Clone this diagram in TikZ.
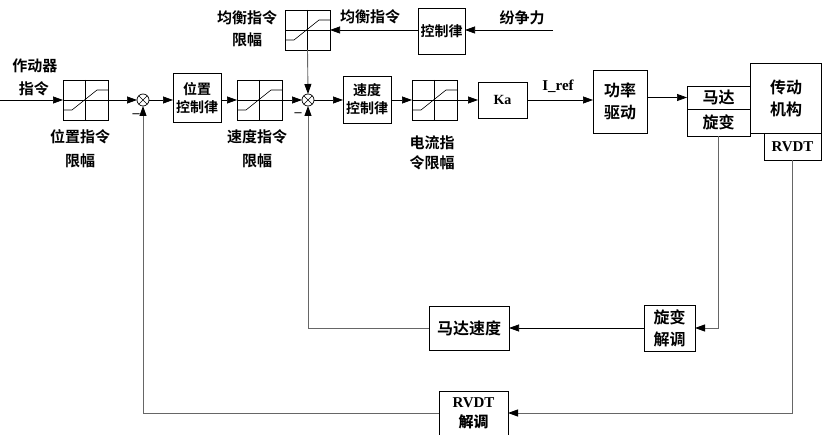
\documentclass[tikz,border=0pt]{standalone}
\usepackage{fontspec}
\setmainfont{Liberation Serif}
\newfontfamily\cjk{Noto Sans CJK SC Bold}
\usetikzlibrary{arrows.meta,calc}
\begin{document}
\begin{tikzpicture}[x=1pt,y=-1pt,
  every node/.style={inner sep=0pt, outer sep=0pt},
  blk/.style={draw, line width=0.8pt, font=\cjk\fontsize{14}{18}\selectfont, align=center},
  lim/.style={draw, line width=0.8pt, minimum width=45pt, minimum height=40pt},
  sumc/.style={draw, circle, line width=0.7pt, minimum size=12pt},
  lbl/.style={font=\cjk\fontsize{15}{21}\selectfont, align=center},
  arr/.style={-{Triangle[length=10pt,width=7pt,color=black]}, line width=0.7pt},
  fb/.style={arr, draw=black!60, line width=0.9pt}
]
\useasboundingbox (0,0) rectangle (822,435);
\newcommand\limcurve[1]{%
  \draw[line width=0.6pt] (#1.north) -- (#1.south);
  \draw[line width=0.6pt] (#1.west) -- (#1.east);
  \draw[line width=0.6pt] ($(#1.south west)!0.25!(#1.north west)$) -- ++(9pt,0) -- ($(#1.north east)!0.25!(#1.south east)+(-11pt,0)$) -- ($(#1.north east)!0.25!(#1.south east)$);
}
% limiters
\node[lim] (L1) at (85.5,100) {};
\node[lim] (L2) at (259.5,100) {};
\node[lim] (L3) at (434.5,100) {};
\node[lim] (LT) at (307.5,30) {};
\limcurve{L1}\limcurve{L2}\limcurve{L3}\limcurve{LT}
% sums
\node[sumc] (S1) at (143,100) {};
\node[sumc] (S2) at (308,100) {};
\foreach \s in {S1,S2}{\draw[line width=0.6pt] (\s.north west) -- (\s.south east) (\s.north east) -- (\s.south west);}
% blocks
\node[blk, minimum width=48pt, minimum height=49pt] (P) at (197,98) {位置\\控制律};
\node[blk, minimum width=48pt, minimum height=47pt] (V) at (367,99.5) {速度\\控制律};
\node[blk, minimum width=47pt, minimum height=46pt] (K) at (441.5,31) {控制律};
\node[blk, minimum width=49pt, minimum height=36pt, font=\bfseries\fontsize{14}{16}\selectfont] (Ka) at (502.5,100) {Ka};
\node[blk, minimum width=54pt, minimum height=63pt, font=\cjk\fontsize{16}{22}\selectfont] (PD) at (620,101.5) {功率\\驱动};
\node[blk, minimum width=63pt, minimum height=23pt, font=\cjk\fontsize{16}{20}\selectfont] (M) at (718.5,97.5) {马达};
\node[blk, minimum width=63pt, minimum height=27pt, font=\cjk\fontsize{16}{20}\selectfont] (R) at (718.5,122.5) {旋变};
\node[blk, minimum width=71pt, minimum height=70pt, font=\cjk\fontsize{16}{22}\selectfont] (A) at (786,98) {传动\\机构};
\node[blk, minimum width=57pt, minimum height=27pt, font=\bfseries\fontsize{15}{18}\selectfont] (RV) at (792.5,146.5) {RVDT};
\node[blk, minimum width=51pt, minimum height=46pt, font=\cjk\fontsize{16}{22}\selectfont] (RD) at (669.5,328) {旋变\\解调};
\node[blk, minimum width=80pt, minimum height=44pt, font=\cjk\fontsize{16}{20}\selectfont] (MS) at (469,328) {马达速度};
\node[blk, minimum width=69pt, minimum height=44pt, anchor=north, font=\bfseries\fontsize{15}{21}\selectfont] (RVD) at (473.5,391) {RVDT\\[-1pt]{\cjk 解调}};
% labels
\node[lbl] (t1) at (35,66) {作动器};
\node[lbl] (t2) at (34,89) {指令};
\node[lbl, font=\cjk\fontsize{15}{24}\selectfont] (t3) at (80,149) {位置指令\\限幅};
\node[lbl, font=\cjk\fontsize{15}{24}\selectfont] (t4) at (257,149) {速度指令\\限幅};
\node[lbl, font=\cjk\fontsize{15}{20}\selectfont] (t5) at (432,153) {电流指\\令限幅};
\node[lbl, font=\cjk\fontsize{15}{22}\selectfont] (t6) at (247,29) {均衡指令\\限幅};
\node[lbl] (t7) at (370,17) {均衡指令};
\node[lbl] (t8) at (522,18) {纷争力};
\node[font=\bfseries\fontsize{15}{18}\selectfont] (t9) at (558,86) {I\_ref};
\node[font=\bfseries\fontsize{14}{16}\selectfont] (m1) at (136,116) {--};
\node[font=\bfseries\fontsize{14}{16}\selectfont] (m2) at (298,115) {--};
% forward path
\coordinate (IN) at (0,100);
\coordinate (F) at (553,30);
\draw[arr] (IN) -- (L1.west);
\draw[arr] (L1.east) -- (S1.west);
\draw[arr] (S1.east) -- (P.west |- S1.east);
\draw[arr] (P.east |- L2.west) -- (L2.west);
\draw[arr] (L2.east) -- (S2.west);
\draw[arr] (S2.east) -- (V.west |- S2.east);
\draw[arr] (V.east |- L3.west) -- (L3.west);
\draw[arr] (L3.east) -- (Ka.west);
\draw[arr] (Ka.east) -- (PD.west |- Ka.east);
\draw[arr] (PD.east |- M.west) -- (M.west);
\draw[arr] (F) -- (K.east |- F);
\draw[arr] (K.west |- LT.east) -- (LT.east);
\draw[fb] (LT.south) -- (S2.north);
% feedback
\draw[fb] (R.south) |- (RD.east);
\draw[arr] (RD.west) -- (MS.east);
\draw[fb] (MS.west) -| (S2.south);
\draw[fb] (RV.south) |- (RVD.east);
\draw[fb] (RVD.west) -| (S1.south);
\end{tikzpicture}
\end{document}
